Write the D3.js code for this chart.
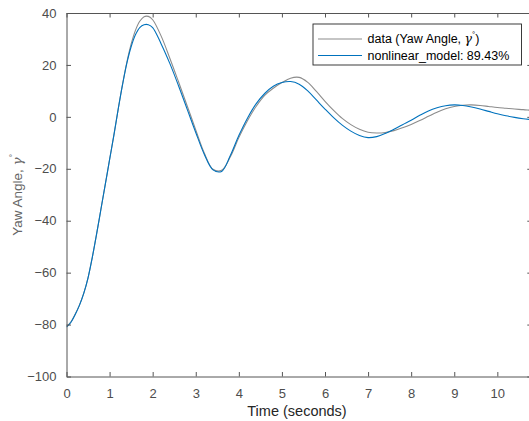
<!DOCTYPE html>
<html><head><meta charset="utf-8">
<script src="https://cdn.jsdelivr.net/npm/d3@7"></script>
<style>
body{margin:0;background:#fff;}
svg{display:block;font-family:"Liberation Sans",Arial,sans-serif;}
</style></head>
<body><svg id="c" width="529" height="421"></svg>
<script>
const timeValues = [0,0.1,0.2,0.3,0.4,0.5,0.6,0.7,0.8,0.9,1.0,1.1,1.2,1.3,1.4,1.5,1.6,1.7,1.8,1.9,2.0,2.2,2.4,2.6,2.8,3.0,3.2,3.4,3.6,3.8,4.0,4.2,4.4,4.6,4.8,5.0,5.2,5.4,5.6,5.8,6.0,6.2,6.4,6.6,6.8,7.0,7.2,7.4,7.6,7.8,8.0,8.2,8.4,8.6,8.8,9.0,9.2,9.4,9.6,9.8,10.0,10.2,10.4,10.6,10.8,11.0];
const dataYaw = [-80.7,-79,-76,-72.5,-68,-62,-54,-45,-35.5,-26,-16.5,-7,3,12.5,21,28,33.3,36.8,38.6,38.7,37.4,31,22.5,13.5,4.3,-5,-14,-20.2,-20.6,-15.5,-8,-1.5,4,8.3,11,13.2,14.9,15.2,13.3,9.8,6,2.5,-0.6,-3,-4.8,-5.9,-6.2,-6,-5.3,-4.2,-2.9,-1.4,0.2,1.8,3.1,4,4.5,4.6,4.4,4,3.6,3.3,3,2.8,2.5,2.3];
const modelYaw = [-81,-79.2,-76.2,-72.6,-68,-62,-54,-45,-35.5,-26,-16.5,-7,3,12.3,20.6,27,31.6,34.4,35.5,35.5,34.4,28,20.5,12,3,-6,-14.5,-20.4,-21,-15,-7.2,-0.5,5,9,11.8,13.2,13.6,12.6,10,6.5,3,-0.3,-3.2,-5.5,-7.2,-8,-7.6,-6.4,-4.8,-3,-1.3,0.6,2.3,3.5,4.3,4.6,4.4,3.8,3,2.1,1.2,0.4,-0.2,-0.7,-1.1,-1.5];
const xTicks = [0,1,2,3,4,5,6,7,8,9,10];
const yTicks = [-100,-80,-60,-40,-20,0,20,40];
const legendLabels = ["data (Yaw Angle, ", "nonlinear_model: 89.43%"];

const svg = d3.select("#c");
const L = 66.5, T = 13, B = 376.5, R = 531.8;
const x = d3.scaleLinear().domain([0, 10.8]).range([L, R]);
const y = d3.scaleLinear().domain([-100, 40]).range([B, T]);
const axisCol = "#555", txtCol = "#4d4d4d";

svg.append("defs").append("clipPath").attr("id","clip")
  .append("rect").attr("x",L).attr("y",T).attr("width",R-L).attr("height",B-T);

const line = d3.line().x(d=>x(d[0])).y(d=>y(d[1])).curve(d3.curveCatmullRom.alpha(0.5));
const g = svg.append("g").attr("clip-path","url(#clip)");
g.append("path").datum(timeValues.map((t,i)=>[t,dataYaw[i]]))
  .attr("d",line).attr("fill","none").attr("stroke","#8c8c8c").attr("stroke-width",1.1);
g.append("path").datum(timeValues.map((t,i)=>[t,modelYaw[i]]))
  .attr("d",line).attr("fill","none").attr("stroke","#0072BD").attr("stroke-width",1.1);

function styleAxis(sel){
  sel.selectAll("path").attr("stroke",axisCol);
  sel.selectAll("line").attr("stroke",axisCol);
  sel.selectAll("text").attr("fill",txtCol).attr("font-size","13px").attr("font-family","Liberation Sans, Arial, sans-serif");
}
const xb = svg.append("g").attr("transform",`translate(0,${B})`)
  .call(d3.axisBottom(x).tickValues(xTicks).tickSizeInner(-4.5).tickSizeOuter(0).tickPadding(12));
styleAxis(xb);
const xt = svg.append("g").attr("transform",`translate(0,${T})`)
  .call(d3.axisTop(x).tickValues(xTicks).tickSizeInner(-4.5).tickSizeOuter(0).tickFormat(""));
styleAxis(xt);
const yl = svg.append("g").attr("transform",`translate(${L},0)`)
  .call(d3.axisLeft(y).tickValues(yTicks).tickSizeInner(-4.5).tickSizeOuter(0).tickPadding(10));
styleAxis(yl);
const yr = svg.append("g").attr("transform",`translate(${R},0)`)
  .call(d3.axisRight(y).tickValues(yTicks).tickSizeInner(-4.5).tickSizeOuter(0).tickFormat(""));
styleAxis(yr);

svg.append("text").attr("x",297).attr("y",416).attr("text-anchor","middle")
  .attr("font-size","14.5px").attr("fill","#262626").text("Time (seconds)");
const yt = svg.append("text").attr("transform",`translate(22,${(T+B)/2}) rotate(-90)`)
  .attr("text-anchor","middle").attr("font-size","13.5px").attr("fill","#666");
yt.append("tspan").text("Yaw Angle, ");
yt.append("tspan").attr("font-family","DejaVu Serif, serif").attr("font-style","italic").text("γ");
yt.append("tspan").attr("dy",-6).attr("font-size","9px").text("°");

const lg = svg.append("g");
lg.append("rect").attr("x",313).attr("y",24).attr("width",208.5).attr("height",41)
  .attr("fill","#fff").attr("stroke","#262626").attr("stroke-width",0.9);
const cols = ["#8c8c8c","#0072BD"];
[0,1].forEach(i=>{
  const yy = 39 + i*16.5;
  lg.append("line").attr("x1",318).attr("x2",362).attr("y1",yy).attr("y2",yy)
    .attr("stroke",cols[i]).attr("stroke-width",1.1);
  const t = lg.append("text").attr("x",367.5).attr("y",yy+4).attr("font-size","12.5px").attr("fill","#000");
  t.append("tspan").text(legendLabels[i]);
  if(i===0){
    t.append("tspan").attr("font-family","DejaVu Serif, serif").attr("font-style","italic").text("γ");
    t.append("tspan").attr("dy",-6).attr("font-size","8px").text("°");
    t.append("tspan").attr("dy",6).text(")");
  }
});
</script></body></html>
